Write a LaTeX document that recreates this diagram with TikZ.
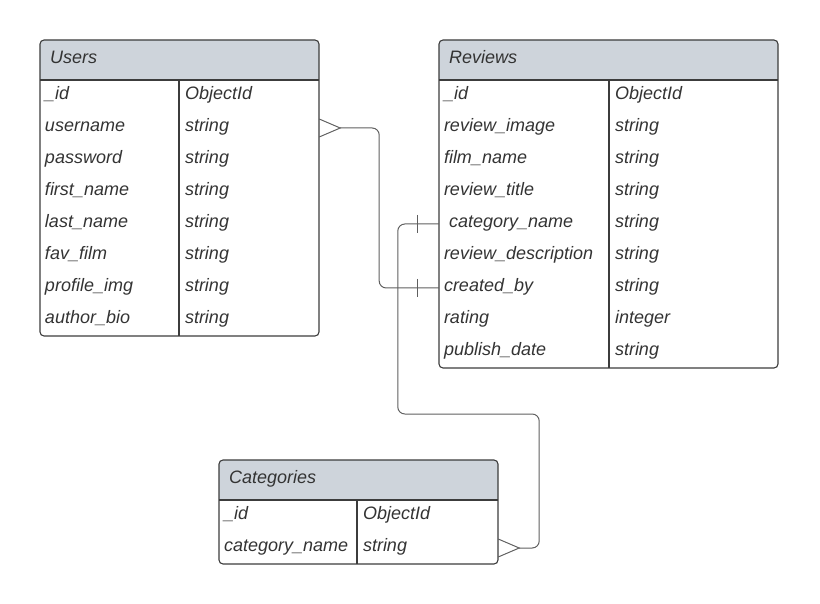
\documentclass[tikz,border=0pt]{standalone}
\usepackage{fontspec}
\setmainfont{Liberation Sans}
\usetikzlibrary{positioning}

\definecolor{hdrgray}{RGB}{206,212,219}
\definecolor{linegray}{RGB}{60,60,60}
\definecolor{txtgray}{RGB}{51,51,51}
\definecolor{linkgray}{RGB}{95,95,95}

\tikzset{
	tblbox/.style={draw=linegray, line width=1.1pt, rounded corners=4pt},
	hdrfill/.style={fill=hdrgray},
	rowbox/.style={minimum height=32pt, inner sep=0pt},
	cell/.style={anchor=base west, inner sep=0pt, text=txtgray, font=\fontsize{18}{20}\selectfont\itshape},
	link/.style={draw=linkgray, line width=1pt, rounded corners=7pt},
	endmark/.style={draw=linkgray, line width=1pt},
}

\begin{document}
\begin{tikzpicture}[x=1pt, y=-1pt]
		\useasboundingbox (0,0) rectangle (820,604);
		% Users
		\fill[hdrfill] (40,80) [rounded corners=4pt]-- (40,40) -- (319,40) [sharp corners]-- (319,80) -- cycle;
		\node[cell] (users-head) at (50,63.5) {Users};
		\draw[linegray, line width=1.1pt] (40,80) -- (319,80) (179,80) -- (179,336);
		\foreach \f/\t [count=\i] in {\_id/ObjectId, username/string, password/string, first\_name/string, last\_name/string, fav\_film/string, profile\_img/string, author\_bio/string} {
			\node[rowbox, minimum width=279pt] (users-\i) at (179.5, 64+32*\i) {};
			\node[cell] at ([xshift=5pt, yshift=-3.5pt]users-\i.west) {\f};
			\node[cell] at ([xshift=145pt, yshift=-3.5pt]users-\i.west) {\t};
		}
		\draw[tblbox] (40,40) rectangle (319,336);
		% Reviews
		\fill[hdrfill] (439,80) [rounded corners=4pt]-- (439,40) -- (778,40) [sharp corners]-- (778,80) -- cycle;
		\node[cell] (reviews-head) at (449,63.5) {Reviews};
		\draw[linegray, line width=1.1pt] (439,80) -- (778,80) (609,80) -- (609,368);
		\foreach \f/\t [count=\i] in {\_id/ObjectId, review\_image/string, film\_name/string, review\_title/string, \ category\_name/string, review\_description/string, created\_by/string, rating/integer, publish\_date/string} {
			\node[rowbox, minimum width=339pt] (reviews-\i) at (608.5, 64+32*\i) {};
			\node[cell] at ([xshift=5pt, yshift=-3.5pt]reviews-\i.west) {\f};
			\node[cell] at ([xshift=176pt, yshift=-3.5pt]reviews-\i.west) {\t};
		}
		\draw[tblbox] (439,40) rectangle (778,368);
		% Categories
		\fill[hdrfill] (219,500) [rounded corners=4pt]-- (219,460) -- (498,460) [sharp corners]-- (498,500) -- cycle;
		\node[cell] (categories-head) at (229,483.5) {Categories};
		\draw[linegray, line width=1.1pt] (219,500) -- (498,500) (357,500) -- (357,564);
		\foreach \f/\t [count=\i] in {\_id/ObjectId, category\_name/string} {
			\node[rowbox, minimum width=279pt] (categories-\i) at (358.5, 484+32*\i) {};
			\node[cell] at ([xshift=5pt, yshift=-3.5pt]categories-\i.west) {\f};
			\node[cell] at ([xshift=144pt, yshift=-3.5pt]categories-\i.west) {\t};
		}
		\draw[tblbox] (219,460) rectangle (498,564);
		% links
		\draw[endmark] ([yshift=9pt]users-2.east) -- ([xshift=21pt]users-2.east) -- ([yshift=-9pt]users-2.east);
		\draw[link] ([xshift=21pt]users-2.east) -- ([xshift=60pt]users-2.east) |- (reviews-7.west);
		\draw[endmark] ([xshift=-21pt, yshift=9pt]reviews-7.west) -- ([xshift=-21pt, yshift=-9pt]reviews-7.west);
		\draw[link] (reviews-5.west) -- ++(-41pt,0) -- ++(0,190) -| ([xshift=41pt]categories-2.east) -- ([xshift=21pt]categories-2.east);
		\draw[endmark] ([xshift=-21pt, yshift=9pt]reviews-5.west) -- ([xshift=-21pt, yshift=-9pt]reviews-5.west);
		\draw[endmark] ([yshift=9pt]categories-2.east) -- ([xshift=21pt]categories-2.east) -- ([yshift=-9pt]categories-2.east);
	\end{tikzpicture}
\end{document}
